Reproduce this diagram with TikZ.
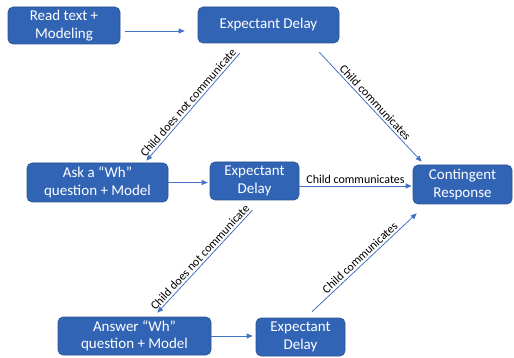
\documentclass[tikz,border=0pt]{standalone}
\usepackage{fontspec}
\setmainfont{Carlito}
\usetikzlibrary{arrows.meta}
\definecolor{boxfill}{RGB}{50,100,182}
\definecolor{boxline}{RGB}{45,82,143}
\definecolor{arrowc}{RGB}{68,114,196}
\tikzset{
  stepbox/.style={draw=boxline, line width=0.6pt, fill=boxfill, rounded corners=5pt,
    text=white, align=center, inner sep=0pt,
    font=\fontsize{15}{17.5}\selectfont},
  conn/.style={draw=arrowc, line width=0.8pt, -{Triangle[length=6pt,width=5pt]}},
  lbl/.style={font=\fontsize{12}{14}\selectfont, text=black, inner sep=2pt}
}
\begin{document}
\begin{tikzpicture}[x=1pt,y=-1pt]
\useasboundingbox (0,0) rectangle (514,358);
\node[stepbox, minimum width=112pt, minimum height=37pt] (b1) at (64,25.5) {Read text +\\Modeling};
\node[stepbox, minimum width=141pt, minimum height=36pt] (b2) at (268.5,25) {Expectant Delay};
\node[stepbox, minimum width=141pt, minimum height=39pt] (b3) at (97.5,182.5) {Ask a “Wh”\\question + Model};
\node[stepbox, minimum width=89pt, minimum height=38pt] (b4) at (254.5,181) {Expectant\\Delay};
\node[stepbox, minimum width=99pt, minimum height=39pt] (b5) at (462.5,184.5) {Contingent\\Response};
\node[stepbox, minimum width=153pt, minimum height=38pt] (b6) at (134.5,336) {Answer “Wh”\\question + Model};
\node[stepbox, minimum width=89pt, minimum height=38pt] (b7) at (300.5,337) {Expectant\\Delay};

\draw[conn] ([xshift=5pt,yshift=-5.5pt]b1.east) -- ([xshift=-13pt,yshift=-6pt]b2.west);
\draw[conn] ([xshift=42pt,yshift=-10pt]b2.south west) -- node[lbl, midway, sloped, above] {Child does not communicate} ([xshift=-22pt,yshift=2pt]b3.north east);
\draw[conn] ([xshift=-20pt,yshift=-9pt]b2.south east) -- node[lbl, midway, sloped, above] {Child communicates} ([xshift=9pt,yshift=3pt]b5.north west);
\draw[conn] (b3.east) -- ([xshift=-2pt]b3.east -| b4.west);
\draw[conn] ([yshift=-5pt]b4.east) -- node[lbl, midway, above] {Child communicates} ([xshift=-1pt,yshift=-5pt]b4.east -| b5.west);
\draw[conn] ([xshift=-47pt,yshift=-10pt]b4.south east) -- node[lbl, midway, sloped, above] {Child does not communicate} ([xshift=-54pt,yshift=4pt]b6.north east);
\draw[conn] (b6.east) -- ([xshift=-3pt]b6.east -| b7.west);
\draw[conn] ([xshift=11.5pt,yshift=6pt]b7.north) -- node[lbl, midway, sloped, above] {Child communicates} ([xshift=4pt,yshift=-9pt]b5.south west);
\end{tikzpicture}
\end{document}
